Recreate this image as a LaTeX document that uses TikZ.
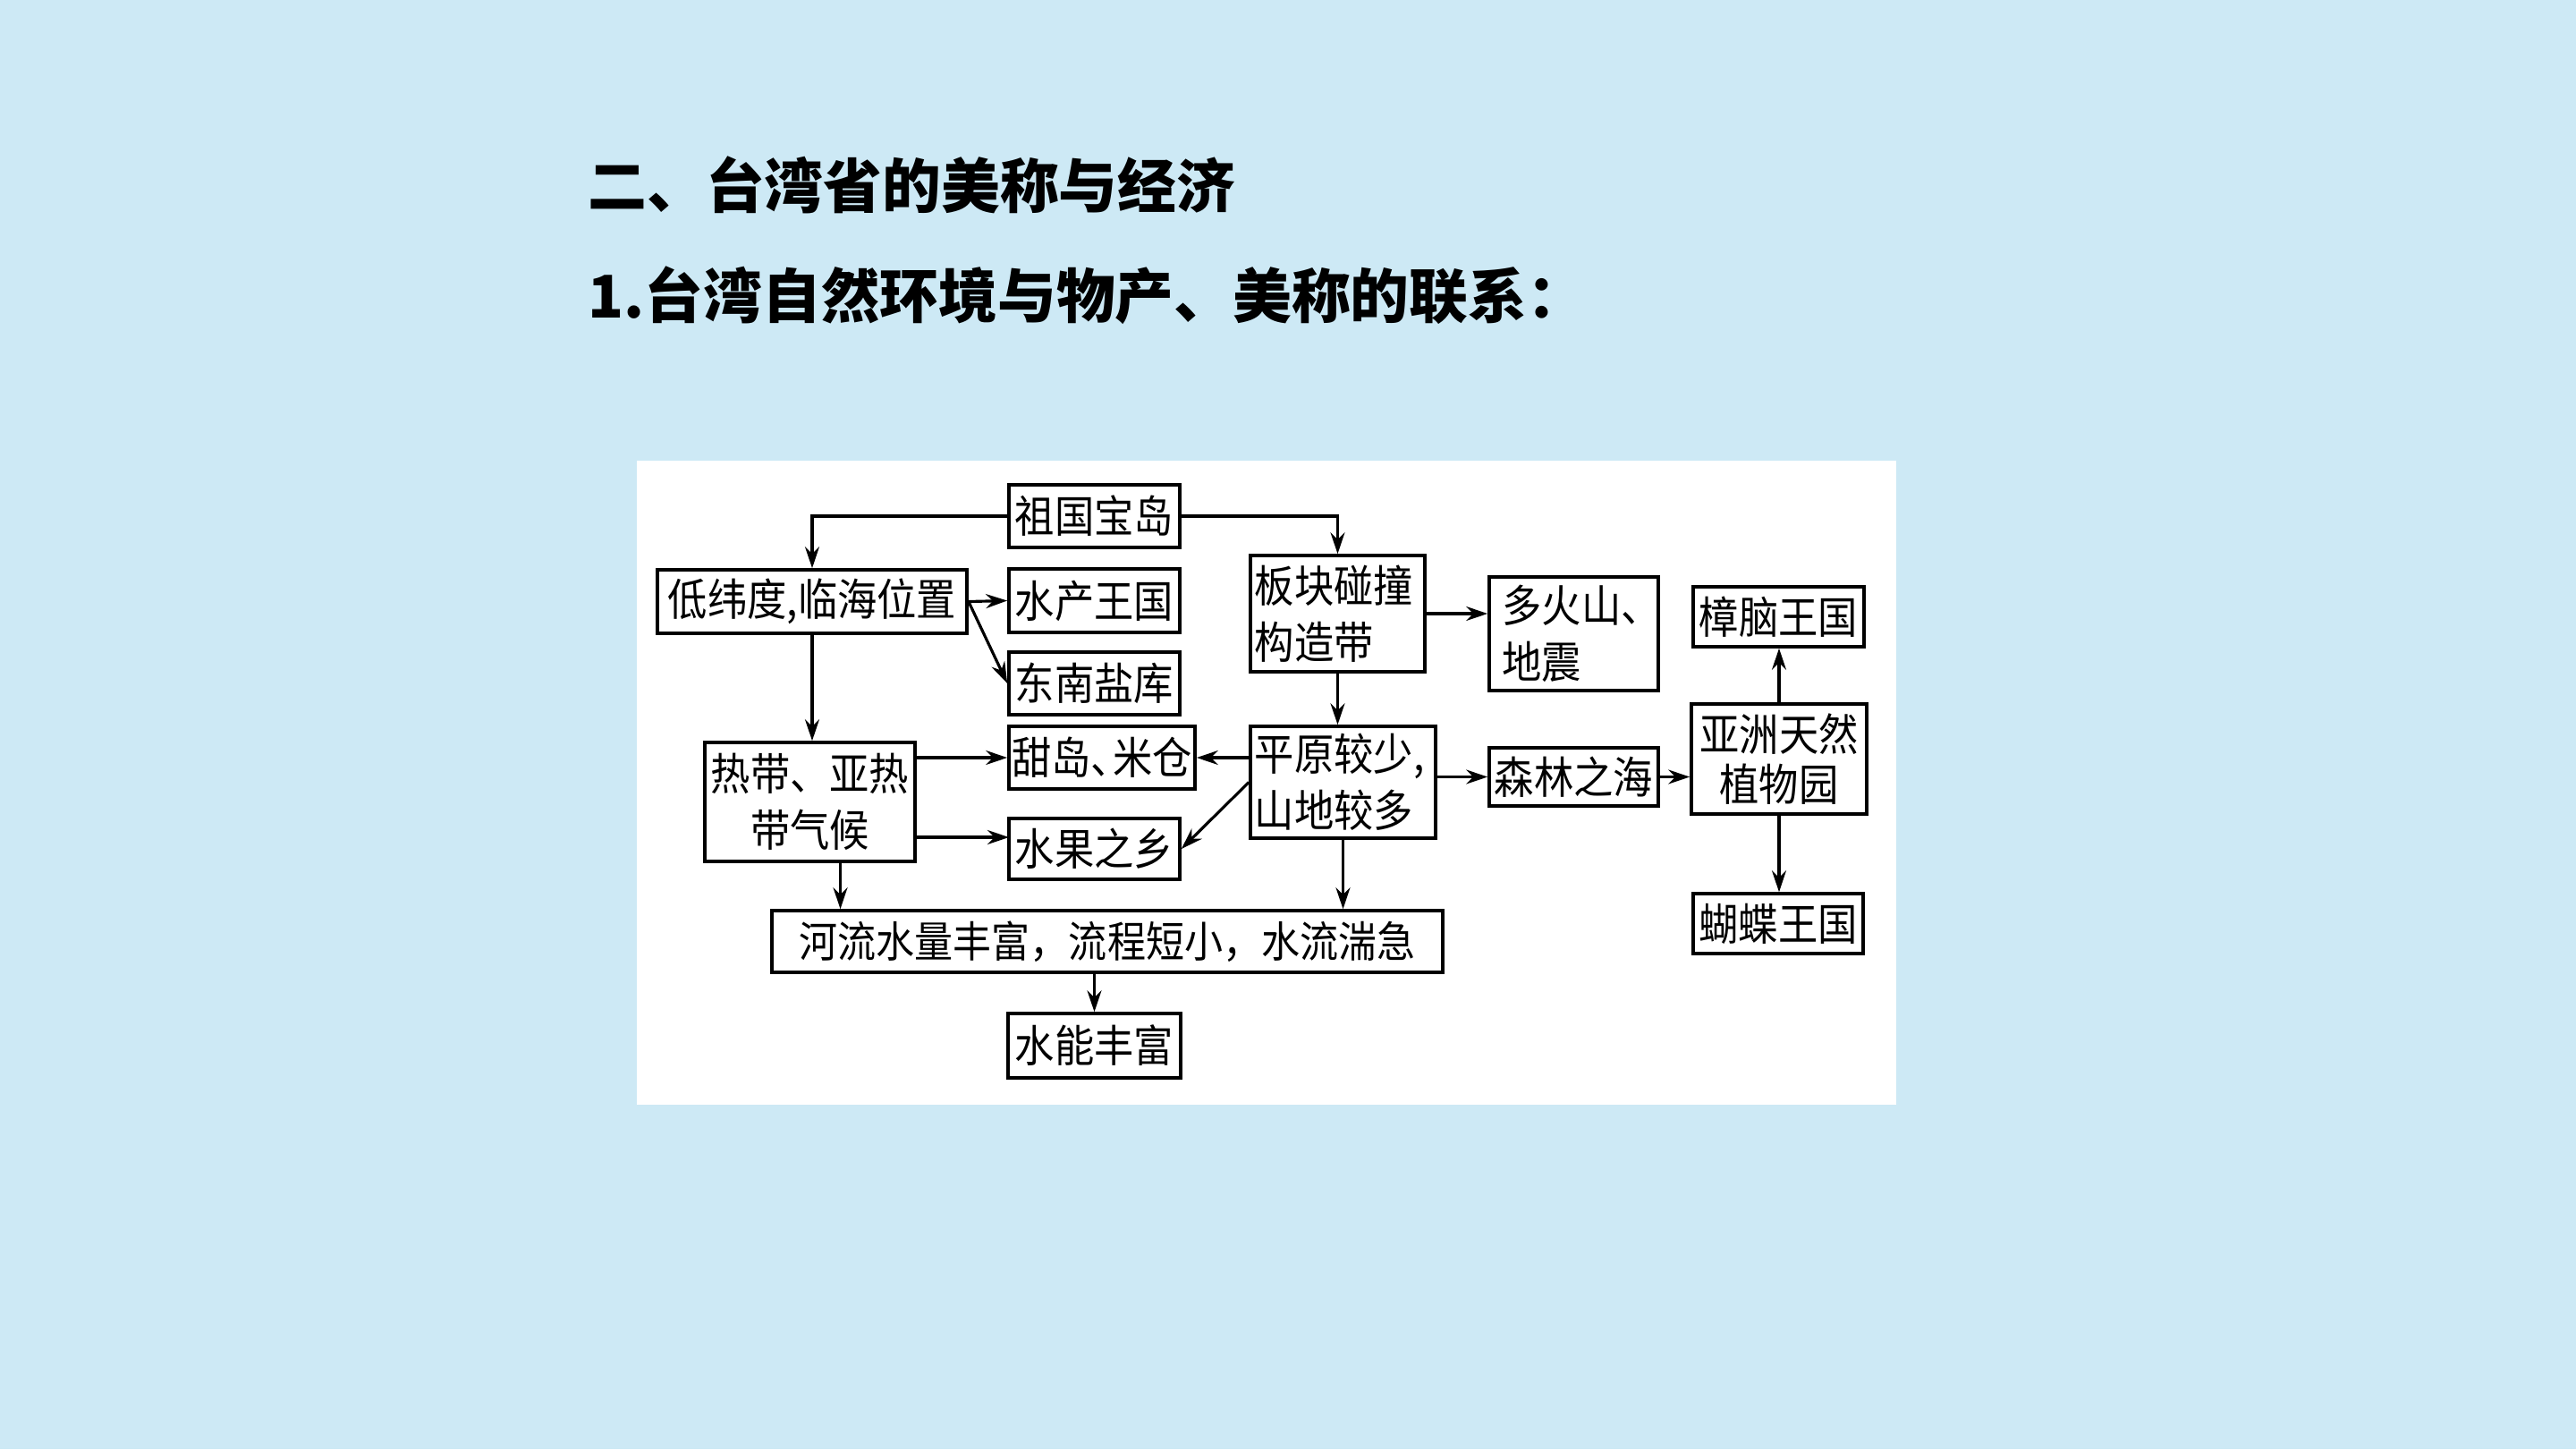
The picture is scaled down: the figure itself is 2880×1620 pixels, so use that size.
\documentclass[tikz,border=0pt]{standalone}
\usepackage{fontspec}
\usetikzlibrary{arrows.meta,calc}
\newfontfamily\cjk[FakeStretch=0.9]{Noto Sans CJK SC}
\newfontfamily\cjktitle{Noto Sans CJK SC}
\definecolor{slidebg}{RGB}{205,233,245}
\tikzset{
  infobox/.style={draw, line width=1pt, fill=white, inner sep=0pt,
                  font=\cjk\fontsize{14pt}{18pt}\selectfont},
  link/.style={-{Stealth[length=0.24cm,width=0.16cm,inset=0.08cm]}, line width=0.9pt},
  heading/.style={anchor=west, inner sep=0pt,
                  font=\cjktitle\bfseries\fontsize{18.7pt}{22pt}\selectfont}
}

\begin{document}
\begin{tikzpicture}[x=0.01cm, y=-0.01cm]
  \fill[slidebg] (0,0) rectangle (2880,1620);
  \useasboundingbox (0,0) rectangle (2880,1620);
  \fill[white] (712,515) rectangle (2120,1235);

  \node[heading] (title) at (657,207) {二、台湾省的美称与经济};
  \node[heading] (subtitle) at (657,330) {1.台湾自然环境与物产、美称的联系：};

  % left part
  \node[infobox, minimum width=1.91cm, minimum height=0.70cm] (zg) at (1223.5,577) {祖国宝岛};
  \node[infobox, minimum width=3.46cm, minimum height=0.71cm] (dw) at (908,672.5) {低纬度,临海位置};
  \node[infobox, minimum width=1.91cm, minimum height=0.71cm] (sc) at (1223.5,671.5) {水产王国};
  \node[infobox, minimum width=1.91cm, minimum height=0.70cm] (yk) at (1223.5,764) {东南盐库};
  \node[infobox, minimum width=2.08cm, minimum height=0.70cm] (td) at (1232,847) {甜岛、\kern-0.4em米仓};
  \node[infobox, minimum width=2.35cm, minimum height=1.33cm, text width=2.25cm, align=center] (rd) at (905.5,896.5) {热带、亚热\\带气候};
  \node[infobox, minimum width=1.91cm, minimum height=0.68cm] (sg) at (1223.5,949) {水果之乡};
  \coordinate (sgin) at (1128,936);

  % right part
  \node[infobox, minimum width=1.95cm, minimum height=1.30cm, text width=1.85cm, align=left] (bk) at (1495.5,686) {板块碰撞\\构造带};
  \node[infobox, minimum width=1.89cm, minimum height=1.27cm, text width=1.60cm, align=left] (hs) at (1759.5,708.5) {多火山、\\地震};
  \node[infobox, minimum width=1.91cm, minimum height=0.67cm] (zn) at (1988.5,689.5) {樟脑王国};
  \node[infobox, minimum width=2.07cm, minimum height=1.25cm, text width=1.97cm, align=left] (py) at (1501.5,874.5) {平原较少,\\山地较多};
  \node[infobox, minimum width=1.89cm, minimum height=0.65cm] (sl) at (1759.5,868.5) {森林之海};
  \node[infobox, minimum width=1.96cm, minimum height=1.23cm, text width=1.86cm, align=center,
        font=\cjk\fontsize{14pt}{16pt}\selectfont] (yz) at (1989,848.5) {亚洲天然\\植物园};
  \node[infobox, minimum width=1.90cm, minimum height=0.67cm] (hd) at (1988,1032.5) {蝴蝶王国};

  % bottom
  \node[infobox, minimum width=7.50cm, minimum height=0.69cm,
        font=\cjk\fontsize{13.6pt}{16pt}\selectfont] (hl) at (1238,1052.5) {河流水量丰富，流程短小，水流湍急};
  \node[infobox, minimum width=1.93cm, minimum height=0.72cm] (sn) at (1223.5,1169) {水能丰富};

  % connectors
  \draw[link] (zg.west) -| (dw.north);
  \draw[link] (zg.east) -| (bk.north);
  \draw[link] (dw.east) -- (sc.west);
  \draw[link] (dw.east) -- (yk.west);
  \draw[link] (dw.south) -- (dw.south |- rd.north);
  \draw[link] (rd.east |- td.west) -- (td.west);
  \draw[link] (rd.east |- sgin) -- (sgin);
  \draw[link] (py.west |- td.east) -- (td.east);
  \draw[link] (py.west) -- (sg.east);
  \draw[link] (bk.east) -- (bk.east -| hs.west);
  \draw[link] (bk.south) -- (bk.south |- py.north);
  \draw[link] (py.east |- sl.west) -- (sl.west);
  \draw[link] (sl.east) -- (sl.east -| yz.west);
  \draw[link] (yz.north) -- (yz.north |- zn.south);
  \draw[link] (yz.south) -- (yz.south |- hd.north);
  \draw[link] ([xshift=0.34cm]rd.south) -- ([xshift=0.34cm]rd.south |- hl.north);
  \draw[link] (py.south) -- (py.south |- hl.north);
  \draw[link] (sn.north |- hl.south) -- (sn.north);
\end{tikzpicture}
\end{document}
